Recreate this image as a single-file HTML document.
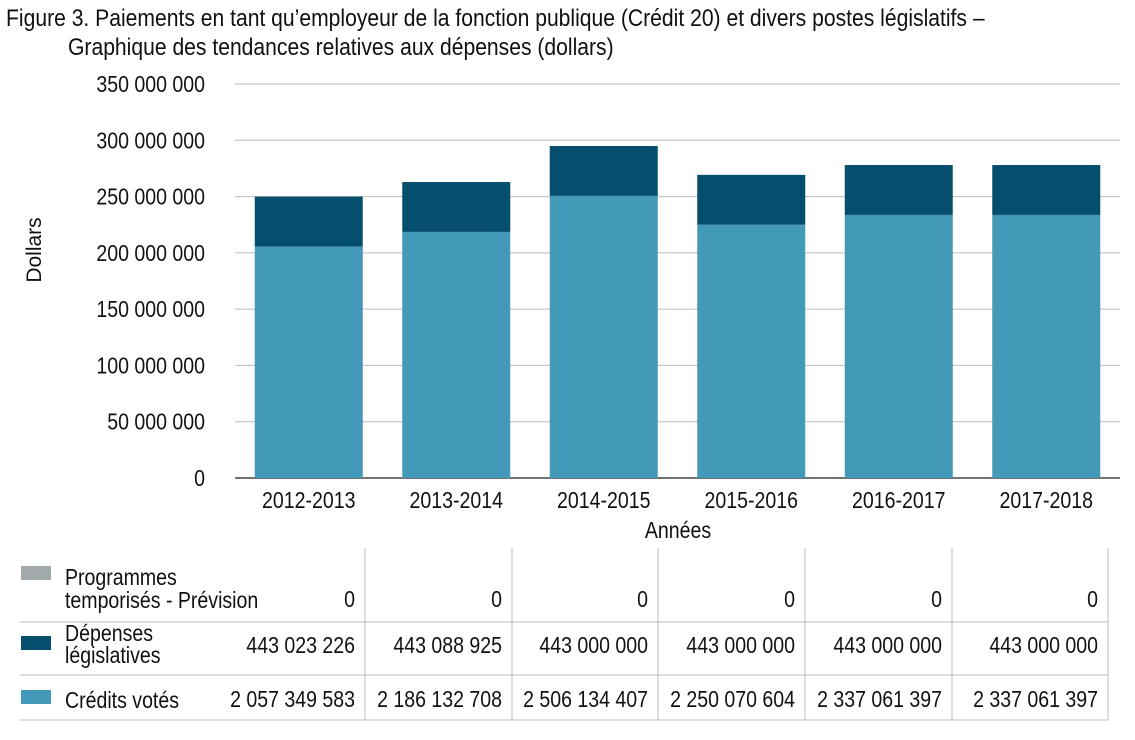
<!DOCTYPE html>
<html><head><meta charset="utf-8"><style>
body{margin:0;background:#fff;width:1135px;height:735px;overflow:hidden;font-family:"Liberation Sans",sans-serif;color:#111}
svg text{font-family:"Liberation Sans",sans-serif;fill:#111}
</style></head><body>
<svg id="c" width="1135" height="735">
<text x="6" y="26" font-size="24" data-sx="0.88">Figure 3. Paiements en tant qu’employeur de la fonction publique (Crédit 20) et divers postes législatifs –</text>
<text x="68" y="55" font-size="24" data-sx="0.88">Graphique des tendances relatives aux dépenses (dollars)</text>
<text transform="translate(41,250) rotate(-90)" text-anchor="middle" font-size="21">Dollars</text>
<text x="678" y="538" text-anchor="middle" font-size="23">Années</text>
<g id="grid"></g><g id="bars"></g><g id="xl"></g><g id="tbl"></g>
</svg>
<script>
const categories=["2012-2013","2013-2014","2014-2015","2015-2016","2016-2017","2017-2018"];
const votedValues=[205.7,218.6,250.6,225.0,233.7,233.7];
const statutoryValues=[44.3,44.3,44.3,44.3,44.3,44.3];
const sunsetValues=[0,0,0,0,0,0];
const yTicks=[0,50,100,150,200,250,300,350];
const yTickLabels=["0","50 000 000","100 000 000","150 000 000","200 000 000","250 000 000","300 000 000","350 000 000"];
const tblSunset=["0","0","0","0","0","0"];
const tblStatutory=["443 023 226","443 088 925","443 000 000","443 000 000","443 000 000","443 000 000"];
const tblVoted=["2 057 349 583","2 186 132 708","2 506 134 407","2 250 070 604","2 337 061 397","2 337 061 397"];
const NS="http://www.w3.org/2000/svg";
const X0=235,X1=1120,Y0=478,Y1=84;
const y=v=>Y0-(v/350)*(Y0-Y1);
const bw=(X1-X0)/categories.length;
const xc=i=>X0+bw*(i+0.5);
function mk(t,a,p){const e=document.createElementNS(NS,t);for(const k in a)e.setAttribute(k,a[k]);p.appendChild(e);return e;}
const g=document.getElementById('grid');
yTicks.forEach((t,i)=>{
 const l=mk('line',{x1:X0,x2:X1,y1:y(t),y2:y(t),stroke:i==0?'#444':'#bbb','stroke-width':i==0?1.5:1},g);
 
 
 const tx=mk('text',{x:205,y:y(t)+8,'text-anchor':'end','font-size':23},g);tx.textContent=yTickLabels[i];
 
 
});
const b=document.getElementById('bars'),xl=document.getElementById('xl');
categories.forEach((c,i)=>{
 const w=108,x=xc(i)-w/2;
 const r1=mk('rect',{x:x,y:y(votedValues[i]),width:w,height:Y0-y(votedValues[i]),fill:'#4299b8'},b);
 
 
 const top=votedValues[i]+statutoryValues[i];
 const r2=mk('rect',{x:x,y:y(top),width:w,height:y(votedValues[i])-y(top),fill:'#054e6e'},b);
 
 
 const t=mk('text',{x:xc(i),y:508,'text-anchor':'middle','font-size':23},xl);t.textContent=c;
 
 
});
const tb=document.getElementById('tbl');
const cols=[218,365,512,658,805,952,1108];
[622,675,720].forEach(yy=>{const l=mk('line',{x1:20,x2:1108,y1:yy,y2:yy,stroke:'#bbb'},tb);
 
 });
cols.slice(1).forEach(xx=>{const l=mk('line',{x1:xx,x2:xx,y1:548,y2:720,stroke:'#bbb'},tb);
 
 });
const rows=[{n:'Programmes',n2:'temporisés - Prévision',c:'#a2a9ad',v:tblSunset,vy:607,sy:566,ly:[585,608]},
 {n:'Dépenses',n2:'législatives',c:'#054e6e',v:tblStatutory,vy:653,sy:636,ly:[641,663]},
 {n:'Crédits votés',n2:'',c:'#4299b8',v:tblVoted,vy:707,sy:690,ly:[708]}];
rows.forEach((r,ri)=>{
 const s=mk('rect',{x:21,y:r.sy,width:30,height:14,fill:r.c},tb);
 
 
 const t1=mk('text',{x:65,y:r.ly[0],'font-size':23},tb);t1.textContent=r.n;
 
 
 if(r.n2){const t2=mk('text',{x:65,y:r.ly[1],'font-size':23},tb);t2.textContent=r.n2;
 
 }
 r.v.forEach((v,i)=>{const t=mk('text',{x:cols[i+1]-10,y:r.vy,'text-anchor':'end','font-size':23},tb);t.textContent=v;
 
 });
});
// condense text horizontally
document.querySelectorAll('svg text').forEach(t=>{
 if(t.hasAttribute('transform'))return;
 const sx=t.getAttribute('data-sx')||0.85;
 const x=+t.getAttribute('x'),yy=+t.getAttribute('y');
 t.setAttribute('x',0);t.setAttribute('y',0);
 t.setAttribute('transform','translate('+x+' '+yy+') scale('+sx+' 1)');
});
</script>
</body></html>
